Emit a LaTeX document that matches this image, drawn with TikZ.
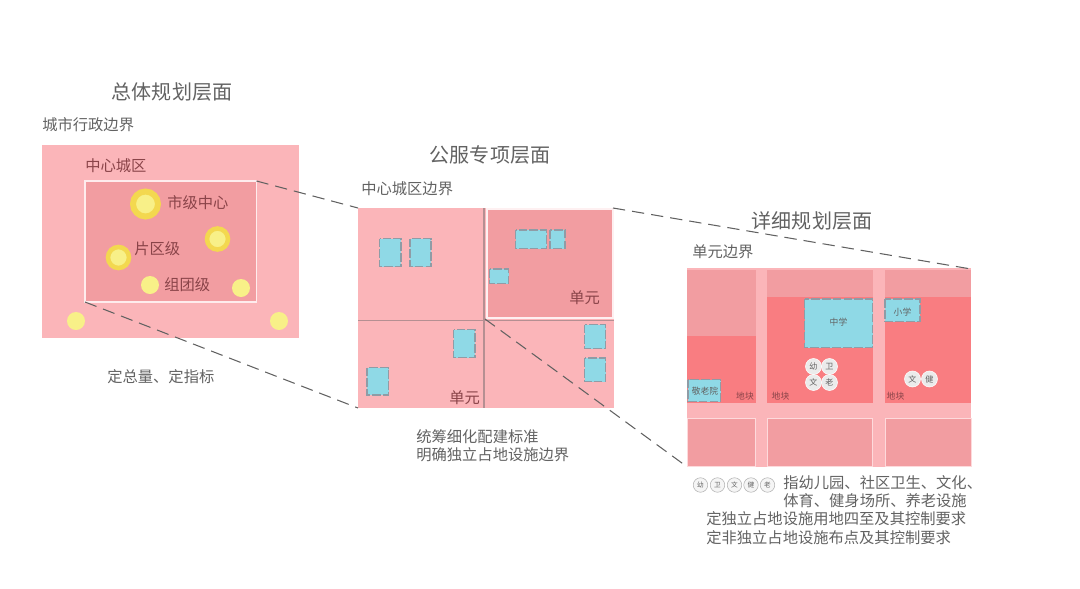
\documentclass[tikz,border=0pt]{standalone}
\usepackage{fontspec}
\setmainfont{Noto Sans CJK SC}
\usetikzlibrary{calc}
\definecolor{plainpink}{HTML}{FBB5B9}
\definecolor{midpink}{HTML}{F29DA1}
\definecolor{deeppink}{HTML}{F97D81}
\definecolor{lotblue}{HTML}{8FD9E6}
\definecolor{halo}{HTML}{F3D84F}
\definecolor{spot}{HTML}{F8F088}
\definecolor{inktext}{HTML}{626262}
\definecolor{redtext}{HTML}{8A4449}
\definecolor{gridgrey}{HTML}{B58F92}
\definecolor{lotedge}{HTML}{8F9CA6}
\tikzset{
	bigtitle/.style={text=inktext, font=\fontsize{11.4pt}{13pt}\selectfont, inner sep=0pt},
	caption/.style={text=inktext, font=\fontsize{8.7pt}{10pt}\selectfont, inner sep=0pt, anchor=west},
	redcaption/.style={caption, text=redtext},
	tinycaption/.style={text=redtext, font=\fontsize{5pt}{6pt}\selectfont, inner sep=0pt},
	facility/.style={circle, draw=white, fill=white!92!black, line width=0.3pt, minimum size=0.32cm, inner sep=0pt, text=inktext, font=\fontsize{4.6pt}{5pt}\selectfont},
	legenditem/.style={facility, draw=black!30, fill=white!96!black, minimum size=0.29cm, font=\fontsize{3.8pt}{5pt}\selectfont},
	lot/.style={fill=lotblue, draw=lotedge, line width=0.7pt, dash pattern=on 5pt off 1.2pt},
	zoomline/.style={draw=black!62, line width=0.6pt, dash pattern=on 7pt off 4pt},
	gridline/.style={draw=gridgrey, line width=0.7pt},
}

\begin{document}
\begin{tikzpicture}[x=0.02cm, y=-0.02cm]
	\useasboundingbox (0, 0) rectangle (1080, 589);

	%%%%% overall plan %%%%%
	\node[bigtitle] (titlea) at (172, 92) {总体规划层面};
	\node[caption] (citylabel) at (42, 125) {城市行政边界};

	\fill[plainpink] (42, 145) rectangle (299, 338);
	\draw[fill=midpink, draw=white!75!plainpink, line width=0.6pt] (85, 181) rectangle (256.5, 302);
	\node[redcaption] (corelabel) at (85, 166) {中心城区};

	\draw[fill=spot, draw=halo, line width=3.4pt] (145.5, 204) circle (12.5);
	\draw[fill=spot, draw=halo, line width=2.6pt] (217.5, 239) circle (10.5);
	\draw[fill=spot, draw=halo, line width=2.6pt] (118.5, 257.5) circle (10.5);
	\fill[spot] (150, 285) circle (9);
	\fill[spot] (241, 288) circle (9);
	\fill[spot] (76, 321) circle (9);
	\fill[spot] (279, 321) circle (9);

	\node[redcaption] (citylevel) at (167, 203) {市级中心};
	\node[redcaption] (arealevel) at (134, 249) {片区级};
	\node[redcaption] (grouplevel) at (164, 285) {组团级};
	\node[caption] (notea) at (107, 377) {定总量、定指标};

	%%%%% public service plan %%%%%
	\node[bigtitle] (titleb) at (490, 155) {公服专项层面};
	\node[caption] (borderb) at (361, 189) {中心城区边界};

	\fill[plainpink] (358, 208) rectangle (614, 408);
	\draw[gridline] (484, 208) -- (484, 408);
	\draw[gridline] (358, 320.5) -- (614, 320.5);
	\draw[fill=midpink, draw=white!80!plainpink, line width=0.8pt] (487, 209) rectangle (613, 318);

	\draw[lot] (379.5, 238.5) rectangle (401, 266.5);
	\draw[lot] (410, 238.5) rectangle (431, 266.5);
	\draw[lot] (515.5, 230) rectangle (546.5, 248.5);
	\draw[lot] (550, 230) rectangle (565, 248.5);
	\draw[lot] (489.5, 269) rectangle (508.5, 283.5);
	\draw[lot] (584.5, 324.5) rectangle (605.5, 348.5);
	\draw[lot] (584.5, 358) rectangle (605.5, 381.5);
	\draw[lot] (453.5, 329.5) rectangle (475, 357.5);
	\draw[lot] (367, 367.5) rectangle (388.5, 395);

	\node[redcaption] (unita) at (569, 298) {单元};
	\node[redcaption] (unitb) at (449, 398) {单元};
	\node[caption] (noteba) at (416, 437) {统筹细化配建标准};
	\node[caption] (notebb) at (416, 455) {明确独立占地设施边界};

	%%%%% detailed plan %%%%%
	\node[bigtitle] (titlec) at (812, 221) {详细规划层面};
	\node[caption] (borderc) at (692, 252) {单元边界};

	\fill[plainpink] (687, 268) rectangle (971, 467);

	\fill[deeppink] (687, 270) rectangle (755.5, 402.5);
	\fill[deeppink] (767, 270) rectangle (872.5, 402.5);
	\fill[deeppink] (885, 270) rectangle (971, 402.5);
	\fill[midpink] (687, 270) rectangle (755.5, 336);
	\fill[midpink] (767, 270) rectangle (872.5, 297);
	\fill[midpink] (885, 270) rectangle (971, 297);

	\draw[fill=midpink, draw=white!50!plainpink, line width=0.5pt] (687, 418.5) rectangle (755.5, 466.5);
	\draw[fill=midpink, draw=white!50!plainpink, line width=0.5pt] (767, 418.5) rectangle (872.5, 466.5);
	\draw[fill=midpink, draw=white!50!plainpink, line width=0.5pt] (885, 418.5) rectangle (971, 466.5);

	\draw[lot] (804.5, 299) rectangle (872.5, 347.5);
	\draw[lot] (885, 299) rectangle (920, 321.5);
	\draw[lot] (688, 379.5) rectangle (720.5, 401.5);

	\node[tinycaption, text=inktext] (middle) at (838.5, 322) {中学};
	\node[tinycaption, text=inktext] (primary) at (902.5, 312) {小学};
	\node[tinycaption, text=inktext] (elderly) at (705, 391) {敬老院};
	\node[tinycaption] (plota) at (745, 396.5) {地块};
	\node[tinycaption] (plotb) at (780.5, 396) {地块};
	\node[tinycaption] (plotc) at (895.5, 396) {地块};

	\node[facility] (you) at (813.5, 366.5) {幼};
	\node[facility] (wei) at (829.5, 366.5) {卫};
	\node[facility] (wen) at (813.5, 382.5) {文};
	\node[facility] (lao) at (829.5, 382.5) {老};
	\node[facility] (wenb) at (912.5, 379) {文};
	\node[facility] (jian) at (929.5, 379) {健};

	\node[legenditem] (keya) at (700.5, 485) {幼};
	\node[legenditem] (keyb) at (717.5, 485) {卫};
	\node[legenditem] (keyc) at (734.5, 485) {文};
	\node[legenditem] (keyd) at (751, 485) {健};
	\node[legenditem] (keye) at (767.5, 485) {老};

	\node[caption] (notec) at (783, 483) {指幼儿园、社区卫生、文化、};
	\node[caption] (noted) at (783, 501) {体育、健身场所、养老设施};
	\node[caption] (notee) at (706, 519) {定独立占地设施用地四至及其控制要求};
	\node[caption] (notef) at (706, 538) {定非独立占地设施布点及其控制要求};

	%%%%% zoom lines %%%%%
	\coordinate (corene) at (256.5, 181);
	\coordinate (coresw) at (85, 302);
	\coordinate (servnw) at (358, 208);
	\coordinate (servsw) at (358, 408);
	\coordinate (unitne) at (613, 208);
	\coordinate (unitsw) at (485, 319);
	\coordinate (plotne) at (971, 269);
	\coordinate (plotsw) at (686, 466);
	\draw[zoomline] (corene) -- (servnw);
	\draw[zoomline] (coresw) -- (servsw);
	\draw[zoomline] (unitne) -- (plotne);
	\draw[zoomline] (unitsw) -- (plotsw);
\end{tikzpicture}
\end{document}
